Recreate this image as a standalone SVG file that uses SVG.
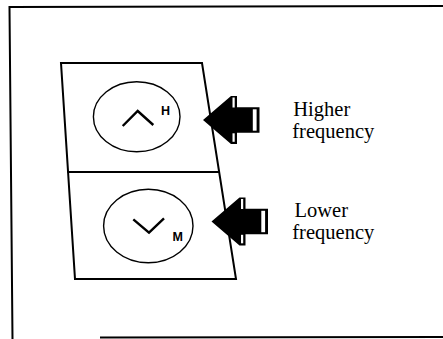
<svg xmlns="http://www.w3.org/2000/svg" width="443" height="339" viewBox="0 0 443 339">
  <style>
    .ln { fill: none; stroke: #000; stroke-width: 2; stroke-linecap: square; }
    .btn { fill: #fff; stroke: #000; stroke-width: 1.4; }
    .chev { fill: none; stroke: #000; stroke-width: 2.4; stroke-linecap: butt; stroke-linejoin: miter; }
    .key { font-family: "Liberation Sans", Arial, sans-serif; font-weight: bold; font-size: 12.5px; fill: #000; }
    .lbl { font-family: "Liberation Serif", "Times New Roman", serif; font-size: 20.5px; fill: #000; }
    .blk { fill: #000; }
    .wht { fill: #fff; }
  </style>
  <defs>
    <g id="blockArrow">
      <polygon class="blk" points="0,0 28,-24 34,-24 34,-12.7 56.5,-12.7 56.5,12.7 34,12.7 34,24 28,24"/>
      <rect class="wht" x="29.5" y="-22.5" width="2.2" height="10"/>
      <rect class="wht" x="29.5" y="13.3" width="2.2" height="8.5"/>
      <rect class="wht" x="49.8" y="-10.7" width="3.8" height="21.4"/>
    </g>
  </defs>
  <rect width="443" height="339" fill="#fff"/>
  <g id="frame">
    <path class="ln" d="M9.5,7 L443,6 M9.5,7 L12.5,339 M101,337.5 L443,337"/>
  </g>
  <g id="panel">
    <polygon class="ln" points="61,63 202,63 236,279 75,279"/>
    <line class="ln" x1="68.5" y1="172" x2="219" y2="172"/>
  </g>
  <g id="button-up">
    <ellipse class="btn" cx="136.7" cy="116.7" rx="43.3" ry="35"/>
    <polyline class="chev" points="122.7,126 137.7,111 153.3,125"/>
    <text class="key" x="161" y="115.3">H</text>
  </g>
  <g id="button-down">
    <ellipse class="btn" cx="148.3" cy="226" rx="44.7" ry="36.7"/>
    <polyline class="chev" points="133.3,219.3 149,232.7 164,218.3"/>
    <text class="key" x="172.5" y="240.7">M</text>
  </g>
  <g id="label-high">
    <text class="lbl" x="293.3" y="116">Higher</text>
    <text class="lbl" x="292.3" y="138.3">frequency</text>
  </g>
  <g id="label-low">
    <text class="lbl" x="294.5" y="216.7">Lower</text>
    <text class="lbl" x="292.3" y="239">frequency</text>
  </g>
  <g id="connectors">
    <use href="#blockArrow" transform="translate(203,120)"/>
    <use href="#blockArrow" transform="translate(211.5,221.5)"/>
  </g>
</svg>
